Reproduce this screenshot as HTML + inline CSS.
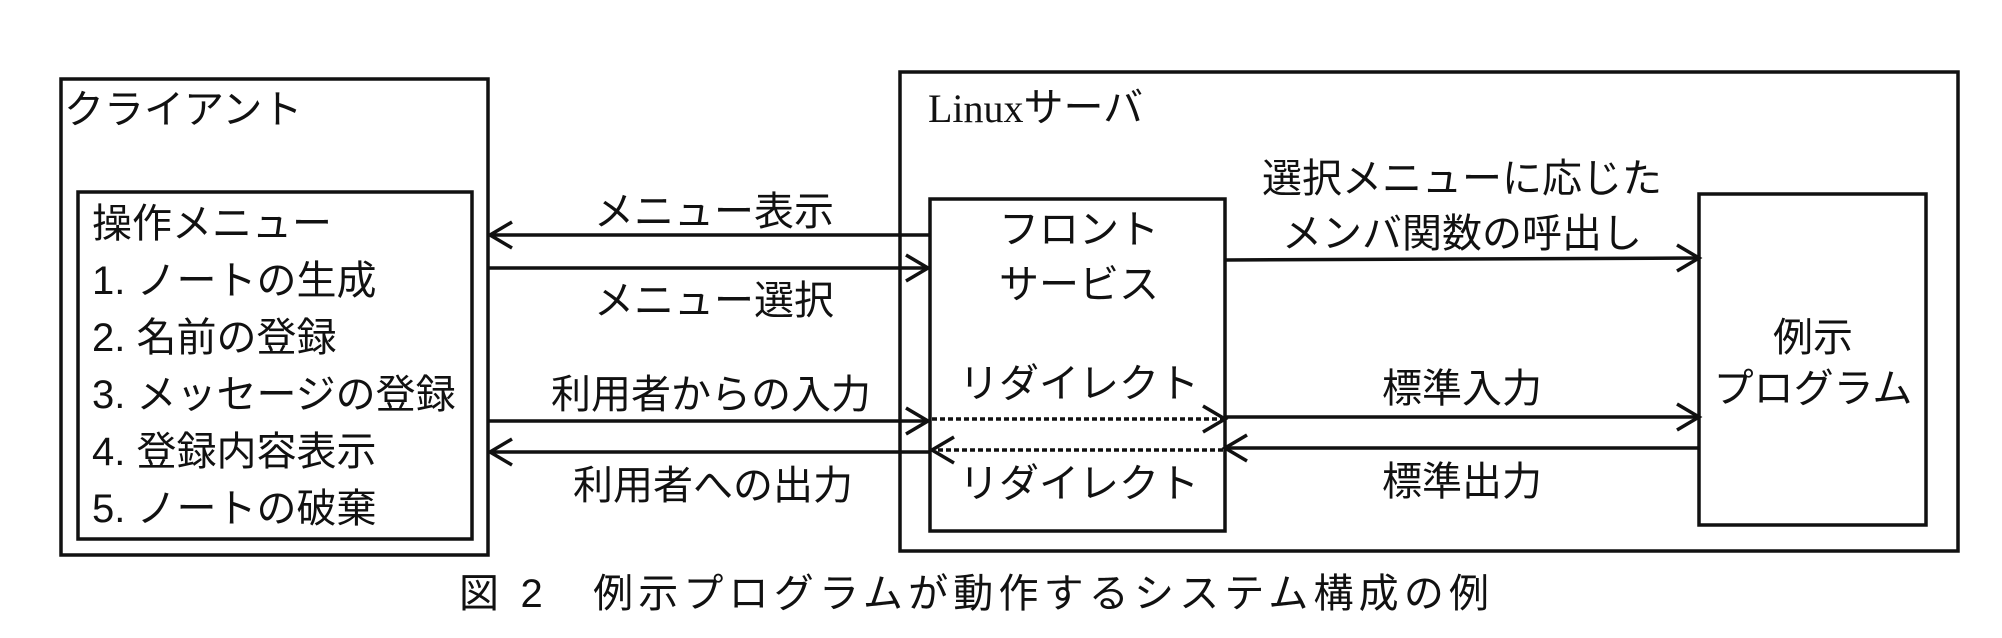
<!DOCTYPE html>
<html><head><meta charset="utf-8"><style>
html,body{margin:0;padding:0;background:#fff;}
svg{display:block;}
text{font-family:"Liberation Sans","Noto Sans CJK JP",sans-serif;fill:#111;font-size:40px;}
</style></head><body>
<svg width="2002" height="638" viewBox="0 0 2002 638" xmlns="http://www.w3.org/2000/svg">
<g fill="none" stroke="#111" stroke-width="3.5">
<rect x="61" y="79" width="427" height="476"/>
<rect x="78" y="192" width="394" height="347"/>
<rect x="900" y="72" width="1058" height="479"/>
<rect x="930" y="199" width="295" height="332"/>
<rect x="1699" y="194" width="227" height="331"/>
<line x1="930" y1="235" x2="490" y2="235"/>
<polyline points="512,222 490,235 512,248"/>
<line x1="488" y1="268" x2="928" y2="268"/>
<polyline points="906,255 928,268 906,281"/>
<line x1="488" y1="421" x2="928" y2="421"/>
<polyline points="906,408 928,421 906,434"/>
<line x1="932" y1="419" x2="1223" y2="419" stroke-dasharray="5,3"/>
<polyline points="1203,406 1225,419 1203,432"/>
<line x1="1225" y1="417" x2="1697" y2="417"/>
<polyline points="1677,404 1699,417 1677,430"/>
<line x1="1699" y1="448" x2="1227" y2="448"/>
<polyline points="1247,435 1225,448 1247,461"/>
<line x1="1223" y1="450" x2="934" y2="450" stroke-dasharray="5,3"/>
<polyline points="954,437 932,450 954,463"/>
<line x1="930" y1="452" x2="490" y2="452"/>
<polyline points="512,439 490,452 512,465"/>
<line x1="1225" y1="260" x2="1697" y2="258"/>
<polyline points="1677,245 1699,258 1677,271"/>
</g>
<g dominant-baseline="central">
<text x="64" y="110">クライアント</text>
<text x="92" y="224">操作メニュー</text>
<text x="92" y="281">1. ノートの生成</text>
<text x="92" y="338">2. 名前の登録</text>
<text x="92" y="395">3. メッセージの登録</text>
<text x="92" y="452">4. 登録内容表示</text>
<text x="92" y="509">5. ノートの破棄</text>
<text x="714" y="212" text-anchor="middle">メニュー表示</text>
<text x="714" y="301" text-anchor="middle">メニュー選択</text>
<text x="711" y="395" text-anchor="middle">利用者からの入力</text>
<text x="713" y="486" text-anchor="middle">利用者への出力</text>
<text x="928" y="108"><tspan font-family="Liberation Serif">Linux</tspan>サーバ</text>
<text x="1079" y="230" text-anchor="middle">フロント</text>
<text x="1079" y="285" text-anchor="middle">サービス</text>
<text x="1079" y="384" text-anchor="middle">リダイレクト</text>
<text x="1079" y="484" text-anchor="middle">リダイレクト</text>
<text x="1462" y="179" text-anchor="middle">選択メニューに応じた</text>
<text x="1462" y="234" text-anchor="middle">メンバ関数の呼出し</text>
<text x="1462" y="389" text-anchor="middle">標準入力</text>
<text x="1462" y="482" text-anchor="middle">標準出力</text>
<text x="1813" y="338" text-anchor="middle">例示</text>
<text x="1813" y="389" text-anchor="middle">プログラム</text>
<text x="459" y="594" font-size="46" textLength="1030" lengthAdjust="spacing">図 2　例示プログラムが動作するシステム構成の例</text>
</g>
</svg>
</body></html>
